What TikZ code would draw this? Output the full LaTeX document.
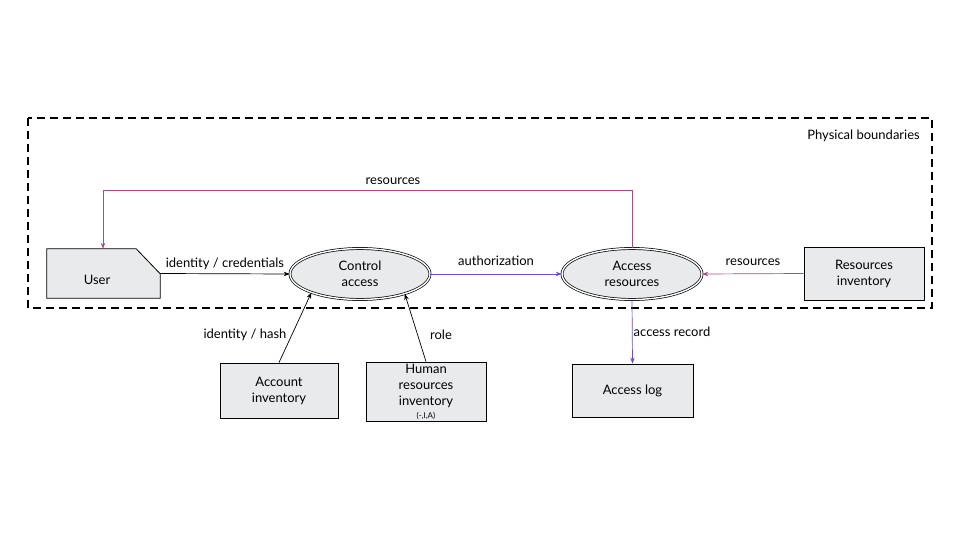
\documentclass[tikz,border=0pt]{standalone}
\usepackage{fontspec}
\setmainfont{Lato}
\usetikzlibrary{arrows.meta,shapes.geometric}
\definecolor{boxfill}{HTML}{E8EAEB}
\definecolor{magline}{HTML}{AE4A80}
\definecolor{purline}{HTML}{6B4FBF}
\tikzset{
  box/.style={draw=black,line width=0.8pt,fill=boxfill,minimum width=#1,inner sep=0pt,align=center,font=\fontsize{13}{16}\selectfont},
  proc/.style={ellipse,draw=black,line width=0.7pt,double=white,double distance=1.4pt,fill=boxfill,minimum width=140pt,minimum height=51pt,inner sep=0pt,align=center,font=\fontsize{13}{16}\selectfont},
  flow/.style={line width=0.7pt,-{Stealth[length=6pt,width=4.5pt]}},
  lbl/.style={font=\fontsize{13}{15}\selectfont,inner sep=0pt,text=black},
}
\begin{document}
\begin{tikzpicture}[x=1pt,y=-1pt]
\useasboundingbox (0,0) rectangle (960,540);
% boundary
\draw[line width=1.8pt,dash pattern=on 8pt off 5pt] (28,118) rectangle (932,308);
\node[lbl,anchor=east] (phys) at (920,136) {Physical boundaries};
% user
\node[minimum width=113pt,minimum height=49pt,inner sep=0pt] (user) at (103.5,273.5) {};
\draw[line width=0.8pt,fill=boxfill] (user.south west) -- (user.north west) -- ([xshift=-24pt]user.north east) -- ([yshift=-25pt]user.north east) -- (user.south east) -- cycle;
\node[lbl] (usertxt) at (97,280) {User};
% processes
\node[proc] (ctrl) at (360,274) {Control\\access};
\node[proc] (acc) at (632,274) {Access\\resources};
% stores
\node[box=120pt,minimum height=53pt] (resinv) at (864,273.5) {Resources\\inventory};
\node[box=118pt,minimum height=55pt] (acct) at (279,390.5) {Account\\inventory};
\node[box=120pt,minimum height=59pt] (hr) at (426,391.5) {Human\\resources\\inventory\\[-3pt]{\fontsize{8}{9}\selectfont(-,I,A)}};
\node[box=121pt,minimum height=53pt] (log) at (632.5,390.5) {Access log};
% flows
\draw[flow] (user.east) -- (ctrl.west) node[lbl,midway,above=4pt] {identity / credentials};
\draw[flow,purline] (ctrl.east) -- (acc.west) node[lbl,midway,above=8pt] {authorization};
\coordinate (topR) at (632,190);
\coordinate (topL) at (103,190);
\draw[flow,magline] (acc.north) -- (topR) -- (topL) -- (user.north -| topL);
\node[lbl] (reslbl1) at (393,181) {resources};
\draw[flow,magline] (resinv.west) -- (acc.east) node[lbl,midway,above=8pt] {resources};
\draw[flow] (acct.north) -- (ctrl.201);
\node[lbl] (idh) at (245,335) {identity / hash};
\draw[flow] (hr.north) -- (ctrl.336);
\node[lbl] (role) at (441,335) {role};
\draw[flow,purline] (acc.south) -- (log.north);
\node[lbl] (accrec) at (672,332) {access record};
\end{tikzpicture}
\end{document}
